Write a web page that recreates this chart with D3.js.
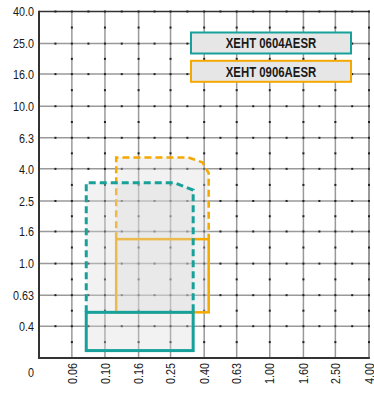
<!DOCTYPE html>
<html><head><meta charset="utf-8">
<script src="https://cdn.jsdelivr.net/npm/d3@7"></script>
<style>
html,body{margin:0;padding:0;background:#fff;}
text{font-family:"Liberation Sans",Arial,sans-serif;}
</style></head>
<body><svg id="c" width="374" height="409"></svg>
<script>
const xTicks = [0.063, 0.1, 0.16, 0.25, 0.4, 0.63, 1.0, 1.6, 2.5, 4.0];
const xLabels = ["0.06","0.10","0.16","0.25","0.40","0.63","1.00","1.60","2.50","4.00"];
const yTicks = [0.4, 0.63, 1.0, 1.6, 2.5, 4.0, 6.3, 10, 16, 25, 40];
const yLabels = ["0.4","0.63","1.0","1.6","2.5","4.0","6.3","10.0","16.0","25.0","40.0"];
const xOrigin = 0.0398, yOrigin = 0.2512;

const seriesNames = ["XEHT 0604AESR", "XEHT 0906AESR"];
// XEHT 0604AESR (teal)
const tealLimitX = [0.077, 0.077, 0.265, 0.343, 0.343];
const tealLimitY = [0.49, 3.26, 3.26, 2.93, 0.49];
const tealRectX = [0.077, 0.343];
const tealRectY = [0.28, 0.49];
// XEHT 0906AESR (orange)
const orangeLimitX = [0.117, 0.117, 0.32, 0.39, 0.426, 0.426];
const orangeLimitY = [1.43, 4.73, 4.73, 4.4, 3.76, 1.43];
const orangeRectX = [0.117, 0.426];
const orangeRectY = [0.49, 1.43];

const TEAL = "#17a19a", ORANGE = "#f5a800";
const svg = d3.select("#c");
const x = d3.scaleLog().domain([xOrigin, 4.0]).range([39, 369]);
const y = d3.scaleLog().domain([yOrigin, 40]).range([358, 11.5]);

const g = svg.append("g");
// grid
const GRID = "#999";
g.selectAll(".vg").data(xTicks).join("line")
  .attr("x1", d => x(d)).attr("x2", d => x(d)).attr("y1", y(40)).attr("y2", y(yOrigin))
  .attr("stroke", d => d === 4.0 ? "#777" : GRID).attr("stroke-width", 1.5);
g.selectAll(".hg").data(yTicks).join("line")
  .attr("y1", d => y(d)).attr("y2", d => y(d)).attr("x1", x(xOrigin)).attr("x2", x(4.0))
  .attr("stroke", d => d === 40 ? "#333" : GRID).attr("stroke-width", 1.5);

// minor marks
const yAll = [yOrigin].concat(yTicks), xAll = [xOrigin].concat(xTicks);
const yMid = d3.range(yAll.length - 1).map(i => Math.sqrt(yAll[i] * yAll[i + 1]));
const xMid = d3.range(xAll.length - 1).map(i => Math.sqrt(xAll[i] * xAll[i + 1]));
const marks = [];
xTicks.forEach(xv => { yMid.forEach(yv => marks.push([xv, yv])); yTicks.forEach(yv => marks.push([xv, yv])); });
yTicks.forEach(yv => xMid.forEach(xv => marks.push([xv, yv])));
g.selectAll(".mk").data(marks).join("rect")
  .attr("x", d => x(d[0]) - 1).attr("y", d => y(d[1]) - 1).attr("width", 2).attr("height", 2)
  .attr("fill", "#222");

// axes
g.append("line").attr("x1", x(xOrigin)).attr("x2", x(xOrigin)).attr("y1", y(40) - 0.8).attr("y2", y(yOrigin) + 1)
  .attr("stroke", "#333").attr("stroke-width", 2);
g.append("line").attr("x1", x(xOrigin)).attr("x2", x(4.0) + 0.8).attr("y1", y(yOrigin)).attr("y2", y(yOrigin))
  .attr("stroke", "#333").attr("stroke-width", 2);

const line = d3.line().x(d => x(d[0])).y(d => y(d[1]));
function zip(a, b) { return a.map((v, i) => [v, b[i]]); }
function region(limX, limY, rX, rY) {
  return [[rX[0], rY[0]]].concat(zip(limX, limY)).concat([[rX[1], rY[0]]]);
}
function drawSeries(color, limX, limY, rX, rY, sw) {
  g.append("path").attr("d", line(region(limX, limY, rX, rY)) + "Z")
    .attr("fill", "#dadada").attr("fill-opacity", 0.35).attr("stroke", "none");
  g.append("path").attr("d", line(zip(limX, limY)))
    .attr("fill", "none").attr("stroke", color).attr("stroke-width", sw).attr("stroke-dasharray", "7,4");
  g.append("rect").attr("x", x(rX[0])).attr("y", y(rY[1]))
    .attr("width", x(rX[1]) - x(rX[0])).attr("height", y(rY[0]) - y(rY[1]))
    .attr("fill", "none").attr("stroke", color).attr("stroke-width", sw);
}
drawSeries(ORANGE, orangeLimitX, orangeLimitY, orangeRectX, orangeRectY, 2.5);
drawSeries(TEAL, tealLimitX, tealLimitY, tealRectX, tealRectY, 3);

const SX = 0.83;
// y labels
g.selectAll(".yl").data(yTicks).join("text")
  .attr("transform", d => `translate(34,${y(d)}) scale(${SX},1)`).attr("dy", "0.36em").attr("text-anchor", "end")
  .attr("font-size", 13).attr("fill", "#1a1a1a").text((d, i) => yLabels[i]);
// x labels
g.selectAll(".xl").data(xTicks).join("text")
  .attr("transform", d => `translate(${x(d)},363) rotate(-90) scale(${SX},1)`).attr("dy", "0.36em").attr("text-anchor", "end")
  .attr("font-size", 13).attr("fill", "#1a1a1a").text((d, i) => xLabels[i]);
g.append("text").attr("transform", `translate(31,372) scale(${SX},1)`).attr("dy", "0.36em").attr("text-anchor", "middle")
  .attr("font-size", 13).attr("fill", "#1a1a1a").text("0");

// legend
const legColors = [TEAL, ORANGE];
const leg = svg.append("g");
seriesNames.forEach((n, i) => {
  const top = 32.5 + i * 28.3;
  leg.append("rect").attr("x", 191).attr("y", top).attr("width", 160).attr("height", 21)
    .attr("fill", "#e6e6e6").attr("stroke", legColors[i]).attr("stroke-width", 2);
  leg.append("text").attr("transform", `translate(271,${top + 10.5}) scale(0.76,1)`).attr("dy", "0.36em").attr("text-anchor", "middle")
    .attr("font-size", 15).attr("font-weight", "bold").attr("fill", "#1a1a1a").text(n);
});
</script></body></html>
